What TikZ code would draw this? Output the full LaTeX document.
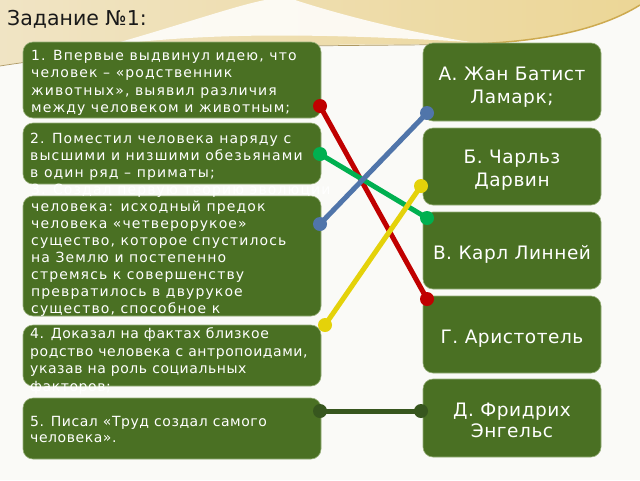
\documentclass[tikz,border=0pt]{standalone}
\usepackage{fontspec}
\setmainfont{DejaVu Sans}
\definecolor{boxgreen}{RGB}{74,112,35}
\definecolor{boxedge}{RGB}{150,175,120}
\definecolor{cred}{RGB}{192,0,0}
\definecolor{cblue}{RGB}{80,117,170}
\definecolor{cgreen}{RGB}{0,176,80}
\definecolor{cyellow}{RGB}{228,210,10}
\definecolor{cdark}{RGB}{55,86,30}
\definecolor{bg}{RGB}{250,250,247}
\definecolor{beigeL}{RGB}{240,228,196}
\definecolor{beigeR}{RGB}{236,214,150}
\definecolor{gold}{RGB}{205,170,80}
\begin{document}
\begin{tikzpicture}[x=1pt,y=-1pt,
  box/.style={draw=boxedge, line width=0.6pt, fill=boxgreen, rounded corners=10pt, inner sep=0pt, minimum width=298pt},
  rbox/.style={draw=boxedge, line width=0.6pt, fill=boxgreen, rounded corners=10pt, inner sep=0pt, minimum width=178pt},
  lt/.style={anchor=base west, inner sep=0pt, text=white, font=\fontsize{14}{17}\selectfont\addfontfeatures{LetterSpace=8}},
  lts/.style={anchor=base west, inner sep=0pt, text=white, font=\fontsize{14}{17}\selectfont\addfontfeatures{LetterSpace=4}},
  rt/.style={anchor=base, inner sep=0pt, text=white, font=\fontsize{18.5}{22}\selectfont\addfontfeatures{LetterSpace=3}},
  link/.style={line width=5pt}
]
\useasboundingbox (0,0) rectangle (640,480);
\fill[bg] (0,0) rectangle (640,480);
% top decoration
\shade[left color=beigeL, right color=beigeR] (0,0) -- (640,0) -- (640,5) .. controls (600,30) and (540,42) .. (470,44) .. controls (350,46) and (150,40) .. (0,66) -- cycle;
\fill[white, opacity=0.85] (110,45) .. controls (190,22) and (235,6) .. (265,0) -- (295,0) .. controls (350,18) and (420,34) .. (470,42) .. controls (300,32) and (200,34) .. (110,45) -- cycle;
\draw[gold!60!gray, line width=0.7pt] (0,66) .. controls (150,42) and (350,47) .. (470,44);
\draw[gold, line width=1.5pt] (470,44) .. controls (540,42) and (600,30) .. (640,5);
\node[anchor=base west, inner sep=0pt, text={rgb,255:red,25;green,25;blue,25}, font=\fontsize{20.5}{24}\selectfont] (title) at (7,25) {Задание №1:};

% left boxes and texts
\node[box, minimum height=76pt] (l1) at (172,80) {};
\node[lt] (l1a) at (31,60) {1. Впервые выдвинул идею, что};
\node[lt] (l1b) at (31,77.6) {человек – «родственник};
\node[lt] (l1c) at (31,95.2) {животных», выявил различия};
\node[lt] (l1d) at (31,112.8) {между человеком и животным;};

\node[box, minimum height=61pt] (l2) at (172,153.5) {};
\node[lt] (l2a) at (30,143) {2. Поместил человека наряду с};
\node[lt] (l2b) at (30,160.3) {высшими и низшими обезьянами};
\node[lt] (l2c) at (30,177.6) {в один ряд – приматы;};

\node[box, minimum height=120pt] (l3) at (172,256) {};
\node[lt] (l3a) at (31,194.5) {3. Создал первую теорию эволюции};
\node[lt] (l3b) at (31,211.5) {человека: исходный предок};
\node[lt] (l3c) at (31,228.5) {человека «четверорукое»};
\node[lt] (l3d) at (31,245.5) {существо, которое спустилось};
\node[lt] (l3e) at (31,262.5) {на Землю и постепенно};
\node[lt] (l3f) at (31,279.5) {стремясь к совершенству};
\node[lt] (l3g) at (31,296.5) {превратилось в двурукое};
\node[lt] (l3h) at (31,313.5) {существо, способное к};

\node[box, minimum height=61pt] (l4) at (172,355.5) {};
\node[lts] (l4a) at (30,338.3) {4. Доказал на фактах близкое};
\node[lts] (l4b) at (30,356) {родство человека с антропоидами,};
\node[lts] (l4c) at (30,373.6) {указав на роль социальных};
\node[lts] (l4d) at (30,391.2) {факторов;};

\node[box, minimum height=61pt] (l5) at (172,428.5) {};
\node[lts] (l5a) at (30,426.7) {5. Писал «Труд создал самого};
\node[lts] (l5b) at (30,442.5) {человека».};

% right boxes
\node[rbox, minimum height=78pt] (r1) at (512,82) {};
\node[rt] (r1a) at (512,80.5) {А. Жан Батист};
\node[rt] (r1b) at (512,103.5) {Ламарк;};
\node[rbox, minimum height=77pt] (r2) at (512,166.5) {};
\node[rt] (r2a) at (512,163.5) {Б. Чарльз};
\node[rt] (r2b) at (512,186) {Дарвин};
\node[rbox, minimum height=77pt] (r3) at (512,250.5) {};
\node[rt] (r3a) at (512,259) {В. Карл Линней};
\node[rbox, minimum height=77pt] (r4) at (512,334.5) {};
\node[rt] (r4a) at (512,343) {Г. Аристотель};
\node[rbox, minimum height=78pt] (r5) at (512,418) {};
\node[rt] (r5a) at (512,416) {Д. Фридрих};
\node[rt] (r5b) at (512,437.5) {Энгельс};

% connector end points
\coordinate (redA) at (320,106);
\coordinate (redB) at (427,299);
\coordinate (grnA) at (320,154);
\coordinate (grnB) at (427,218);
\coordinate (bluA) at (320,224);
\coordinate (bluB) at (427,113);
\coordinate (yelA) at (325,325);
\coordinate (yelB) at (421,186);
\coordinate (drkA) at (320,411);
\coordinate (drkB) at (421,411);

\draw[link, cred] (redA) -- (redB);
\fill[cred] (redA) circle (7pt) (redB) circle (7pt);
\draw[link, cgreen] (grnA) -- (grnB);
\fill[cgreen] (grnA) circle (7pt) (grnB) circle (7pt);
\draw[link, cblue] (bluA) -- (bluB);
\fill[cblue] (bluA) circle (7pt) (bluB) circle (7pt);
\draw[link, cyellow] (yelA) -- (yelB);
\fill[cyellow] (yelA) circle (7pt) (yelB) circle (7pt);
\draw[link, cdark] (drkA) -- (drkB);
\fill[cdark] (drkA) circle (7pt) (drkB) circle (7pt);
\end{tikzpicture}
\end{document}
